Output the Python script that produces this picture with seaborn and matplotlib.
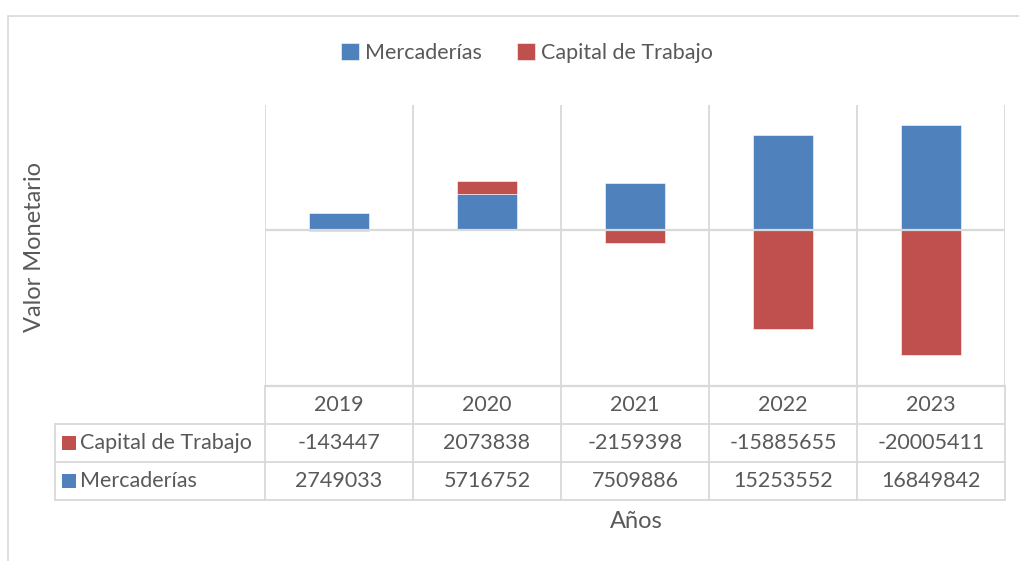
import numpy as np
import matplotlib
matplotlib.use("Agg")
import matplotlib.pyplot as plt
from matplotlib.patches import Rectangle
import seaborn as sns

years = ["2019", "2020", "2021", "2022", "2023"]
mercaderias = [2749033, 5716752, 7509886, 15253552, 16849842]
capital_trabajo = [-143447, 2073838, -2159398, -15885655, -20005411]

BLUE = "#4F81BD"
RED = "#C0504D"
GRID = "#D9D9D9"
TXT = "#595959"
W, H = 1020, 561

sns.set_theme(style="white")
plt.rcParams["font.family"] = ["Lato", "DejaVu Sans"]


def fx(px):
    return px / W


def fy(py):
    return 1 - py / H


fig = plt.figure(figsize=(W / 100, H / 100), dpi=100)
fig.patch.set_facecolor("white")

# outer chart border (cut off at right/bottom like the screenshot)
fig.patches.append(Rectangle((fx(8), fy(600)), fx(1100) - fx(8), fy(16) - fy(600),
                             transform=fig.transFigure, fill=False,
                             edgecolor=GRID, linewidth=1.2))

# plot area
ax = fig.add_axes([fx(265), fy(386), fx(1005) - fx(265), fy(105) - fy(386)])
merc = np.array(mercaderias)
cap = np.array(capital_trabajo)
# Excel-style stacking: positives stack on positives, negatives go down from zero
cap_bottom = np.where(cap >= 0, np.where(merc >= 0, merc, 0), 0)

sns.barplot(x=years, y=mercaderias, color=BLUE, width=0.4, saturation=1,
            ax=ax, label="Mercaderías", edgecolor="white", linewidth=0.4, zorder=2)
sns.barplot(x=years, y=capital_trabajo, bottom=cap_bottom, color=RED, width=0.4,
            saturation=1, ax=ax, label="Capital de Trabajo",
            edgecolor="white", linewidth=0.4, zorder=2)
handles, labels = ax.get_legend_handles_labels()
if ax.get_legend() is not None:
    ax.get_legend().remove()

ax.set_xlim(-0.5, 4.5)
ax.set_ylim(-25e6, 20e6)
ax.axhline(0, color=GRID, linewidth=1.6, zorder=3)
for b in np.arange(-0.5, 5.0, 1.0):
    ax.axvline(b, color=GRID, linewidth=1.3, zorder=1)
ax.set_xticks([])
ax.set_yticks([])
ax.set_xlabel("")
ax.set_ylabel("")
for s in ax.spines.values():
    s.set_visible(False)
ax.set_facecolor("none")

# data table below the plot
left_edge = -0.5 - (265 - 55) / 148
tab = fig.add_axes([fx(55), fy(500), fx(1005) - fx(55), fy(386) - fy(500)])
tab.set_xlim(left_edge, 4.5)
tab.set_ylim(3, 0)
tab.axis("off")

tab.plot([-0.5, 4.5], [0, 0], color=GRID, lw=1.6, clip_on=False)
for yy in [1, 2, 3]:
    tab.plot([left_edge, 4.5], [yy, yy], color=GRID, lw=1.3, clip_on=False)
tab.plot([left_edge, left_edge], [1, 3], color=GRID, lw=1.3, clip_on=False)
for b in np.arange(-0.5, 5.0, 1.0):
    tab.plot([b, b], [0, 3], color=GRID, lw=1.3, clip_on=False)

fs = 15.5
for i, yr in enumerate(years):
    tab.text(i, 0.5, yr, ha="center", va="center", fontsize=fs, color=TXT)
    tab.text(i, 1.5, str(capital_trabajo[i]), ha="center", va="center", fontsize=fs, color=TXT)
    tab.text(i, 2.5, str(mercaderias[i]), ha="center", va="center", fontsize=fs, color=TXT)

for row, (name, col) in enumerate([("Capital de Trabajo", RED), ("Mercaderías", BLUE)], start=1):
    tab.add_patch(Rectangle((left_edge + 0.05, row + 0.31), 0.09, 0.38,
                            facecolor=col, edgecolor="none", clip_on=False))
    tab.text(left_edge + 0.17, row + 0.5, name, ha="left", va="center", fontsize=fs, color=TXT)

# legend
fig.legend(handles, labels, loc="center", bbox_to_anchor=(fx(527), fy(53)), ncol=2,
           frameon=False, fontsize=fs, labelcolor=TXT, handlelength=0.85,
           handleheight=0.85, handletextpad=0.3, columnspacing=1.6)

# axis titles
fig.text(fx(35), fy(247), "Valor Monetario", rotation=90, ha="center", va="center",
         fontsize=17, color=TXT)
fig.text(fx(636), fy(521), "Años", ha="center", va="center", fontsize=17, color=TXT)

fig.savefig("out.png", dpi=100)
